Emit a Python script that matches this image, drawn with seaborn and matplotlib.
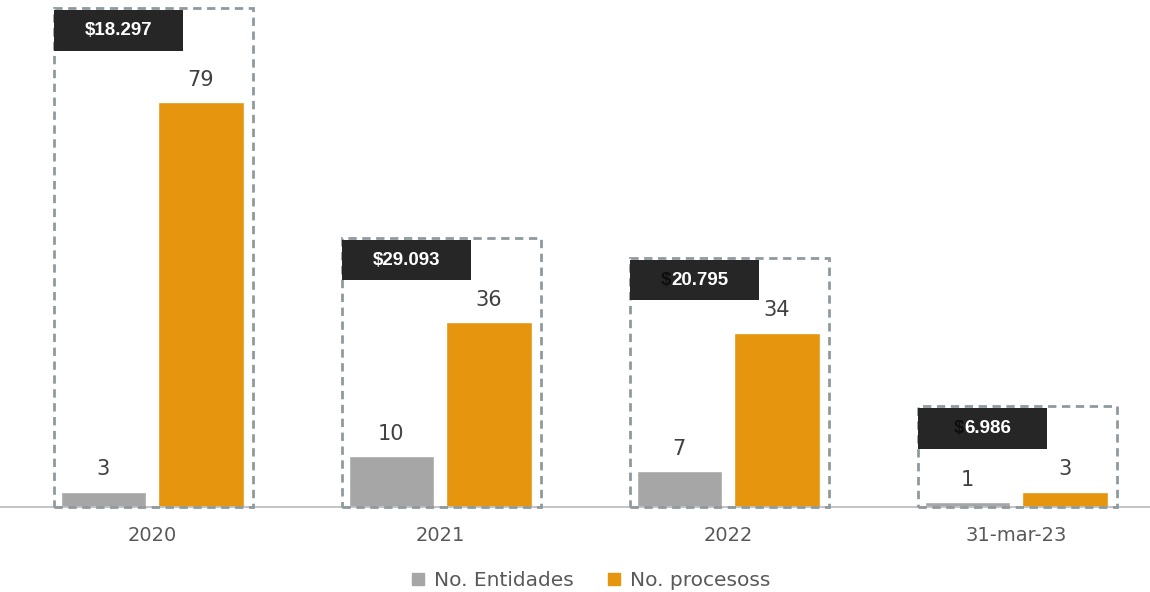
import pandas as pd
import seaborn as sns
import matplotlib.pyplot as plt
from matplotlib.patches import Rectangle
from matplotlib.offsetbox import TextArea, HPacker, AnnotationBbox

# Data
periodos = ["2020", "2021", "2022", "31-mar-23"]
entidades = [3, 10, 7, 1]
procesos = [79, 36, 34, 3]
montos = ["18.297", "29.093", "20.795", "6.986"]
series = ["No. Entidades", "No. procesoss"]

# layout of the dashed annotation frames (data units)
box_tops = [97.3, 52.5, 48.6, 19.7]
dollar_dark = [False, False, True, True]

gris = "#A6A6A6"
naranja = "#E6950F"

df = pd.DataFrame({
    "periodo": periodos * 2,
    "valor": entidades + procesos,
    "serie": [series[0]] * 4 + [series[1]] * 4,
})

sns.set_theme(style="white")
plt.rcParams["font.family"] = ["DejaVu Sans"]

fig = plt.figure(figsize=(11.5, 5.92), dpi=100)
ax = fig.add_axes([0, 0.1436, 1, 0.8564])

sns.barplot(data=df, x="periodo", y="valor", hue="serie", order=periodos,
            hue_order=series, palette=[gris, naranja], width=0.68, gap=0.13,
            saturation=1, ax=ax)

ax.set_xlim(-0.528, 3.465)
ax.set_ylim(0, 98.9)
ax.set_xlabel("")
ax.set_ylabel("")
ax.set_yticks([])
for s in ["top", "left", "right"]:
    ax.spines[s].set_visible(False)
ax.spines["bottom"].set_color("#BFBFBF")
ax.spines["bottom"].set_linewidth(1.3)
ax.tick_params(axis="x", length=0, pad=14, labelsize=14, labelcolor="#595959")

# value labels above bars
for i in range(len(periodos)):
    for val, dx in [(entidades[i], -0.17), (procesos[i], 0.17)]:
        ax.annotate(str(val), (i + dx, val), xytext=(0, 16), textcoords="offset points",
                    ha="center", va="center", fontsize=15, color="#404040")

# dashed frames and dark amount tags
tp = dict(color="white", fontsize=13.5, fontweight="bold", family="Liberation Sans")
for i in range(len(periodos)):
    ax.add_patch(Rectangle((i - 0.34, 0), 0.69, box_tops[i], fill=False,
                           edgecolor="#8E9AA0", linewidth=2, linestyle=(0, (3, 2)),
                           zorder=4, clip_on=False))
    ax.add_patch(Rectangle((i - 0.34, box_tops[i] - 8.3), 0.448, 7.9,
                           facecolor="#262626", edgecolor="none", zorder=5, clip_on=False))
    if dollar_dark[i]:
        dp = dict(tp, color="#0E0E0E")
        pack = HPacker(children=[TextArea("$", textprops=dp), TextArea(montos[i], textprops=tp)],
                       pad=0, sep=0, align="baseline")
    else:
        pack = TextArea("$" + montos[i], textprops=tp)
    ab = AnnotationBbox(pack, (i - 0.116, box_tops[i] - 4.35), xycoords="data",
                        frameon=False, box_alignment=(0.5, 0.5), zorder=6)
    ax.add_artist(ab)

ax.legend_.remove()
handles = [plt.Line2D([], [], marker="s", linestyle="", markersize=9, color=c) for c in [gris, naranja]]
fig.legend(handles, series, loc="center", bbox_to_anchor=(0.513, 0.019), ncol=2, frameon=False,
           prop={"size": 14.5}, labelcolor="#595959", handlelength=0.8,
           handletextpad=0.4, columnspacing=1.6)

fig.savefig("out.png", dpi=100)
